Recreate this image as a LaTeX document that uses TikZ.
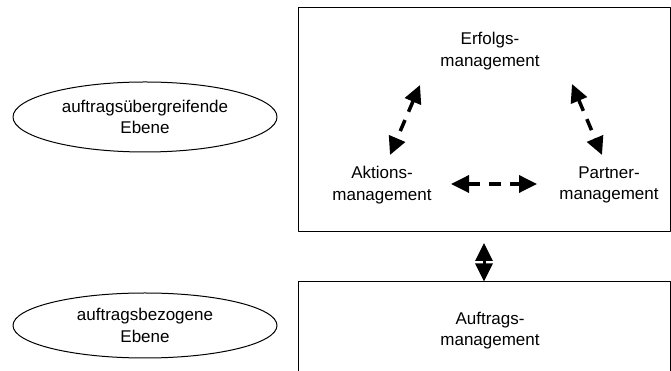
\documentclass[tikz,border=0pt]{standalone}
\usepackage{fontspec}
\setmainfont{Liberation Sans}
\usetikzlibrary{arrows.meta,shapes.geometric}

\tikzset{
  ebene/.style={draw,ellipse,line width=1pt,minimum width=264pt,inner sep=0pt,align=center,font=\fontsize{17}{21.5}\selectfont},
  rahmen/.style={draw,rectangle,line width=1pt,inner sep=0pt,minimum width=372pt},
  aufgabe/.style={align=center,inner sep=0pt,font=\fontsize{17}{21.5}\selectfont},
  spitze/.style={{Triangle[length=18pt,width=17pt]}-{Triangle[length=18pt,width=17pt]}},
  wechsel/.style={spitze,line width=3.5pt,dash pattern=on 12pt off 9pt},
}

\begin{document}
\begin{tikzpicture}[line join=round,x=1pt,y=1pt]
\clip (0,0) rectangle (671,371);
% Ebenen
\node[ebene,minimum height=70pt] (uebergreifend) at (145,254) {auftragsübergreifende\\Ebene};
\node[ebene,minimum height=65pt] (bezogen) at (145,45.5) {auftragsbezogene\\Ebene};
% Rahmen
\node[rahmen,minimum height=224pt] (oben) at (484,251) {};
\node[rahmen,minimum height=118pt] (unten) at (484,30) {};
% Aufgaben
\node[aufgabe] (erfolg) at (490,320) {Erfolgs-\\management};
\node[aufgabe] (aktion) at (382,186) {Aktions-\\management};
\node[aufgabe] (partner) at (609,186) {Partner-\\management};
\node[aufgabe] (auftrag) at (490,40.5) {Auftrags-\\management};
% Beziehungen
\draw[wechsel] ([shift={(-70pt,-34pt)}]erfolg.center) -- ([shift={(8pt,30pt)}]aktion.center);
\draw[wechsel] ([shift={(82pt,-33pt)}]erfolg.center) -- ([shift={(-7pt,30pt)}]partner.center);
\draw[wechsel] ([shift={(69pt,1pt)}]aktion.center) -- ([shift={(-72pt,1pt)}]partner.center);
\draw[spitze,line width=3pt] ([yshift=-10.5pt]oben.south) -- (unten.north);
\end{tikzpicture}
\end{document}
